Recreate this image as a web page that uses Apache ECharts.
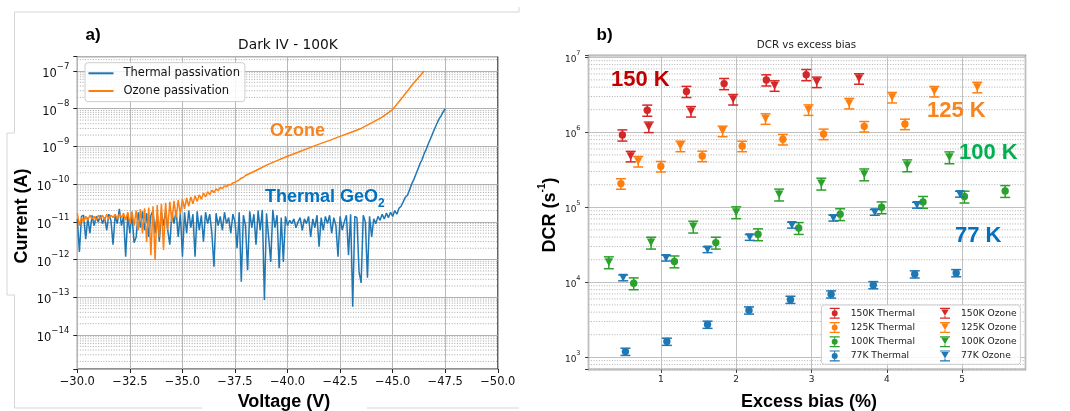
<!DOCTYPE html>
<html><head><meta charset="utf-8">
<script src="https://cdn.jsdelivr.net/npm/echarts@6/dist/echarts.min.js"></script>
<style>html,body{margin:0;padding:0;background:#fff}#c{width:1070px;height:411px}</style>
</head><body><div id="c"></div><script>
// ---------------- Panel a data: Dark IV at 100K ----------------
const thermalIV = [
[-30.0,1.2e-11],[-30.1,1.6e-12],[-30.2,1.4e-11],[-30.3,1.5e-11],[-30.4,3.5e-12],[-30.5,1.3e-11],[-30.6,5e-12],[-30.7,1.5e-11],[-30.8,8e-12],[-30.9,1.4e-11],
[-31.0,1.0e-11],[-31.1,1.5e-11],[-31.2,9e-12],[-31.3,1.3e-11],[-31.4,6e-12],[-31.5,1.6e-11],[-31.6,1.1e-11],[-31.7,2.5e-12],[-31.8,1.5e-11],[-31.9,9e-12],
[-32.0,2.2e-11],[-32.1,8e-12],[-32.2,1.4e-11],[-32.3,1.2e-12],[-32.4,1.5e-11],[-32.5,5e-12],[-32.6,1.6e-11],[-32.7,2.8e-12],[-32.8,4e-12],[-32.9,1.8e-11],
[-33.0,7e-12],[-33.1,1.9e-11],[-33.2,6e-12],[-33.3,1.7e-11],[-33.4,4e-12],[-33.5,1.5e-11],[-33.6,2.0e-11],[-33.7,5e-12],[-33.8,1.6e-11],[-33.9,3e-12],
[-34.0,1.8e-11],[-34.1,8e-12],[-34.2,2.0e-11],[-34.3,6e-12],[-34.4,2.5e-12],[-34.5,1.8e-11],[-34.6,9e-12],[-34.7,2.0e-11],[-34.8,4e-12],[-34.9,1.7e-11],
[-35.0,1.2e-12],[-35.1,1.8e-11],[-35.2,5e-12],[-35.3,2.0e-11],[-35.4,7e-12],[-35.5,1.6e-11],[-35.6,1.2e-12],[-35.7,1.9e-11],[-35.8,6e-12],[-35.9,1.5e-11],
[-36.0,3e-12],[-36.1,1.8e-11],[-36.2,9e-12],[-36.3,1.6e-11],[-36.4,5e-12],[-36.5,6.5e-13],[-36.6,1.7e-11],[-36.7,8e-12],[-36.8,1.4e-11],[-36.9,6e-12],
[-37.0,1.8e-11],[-37.1,9e-12],[-37.2,1.3e-11],[-37.3,5e-12],[-37.4,1.6e-11],[-37.5,1.0e-11],[-37.6,2.0e-12],[-37.7,1.8e-11],[-37.8,2.6e-13],[-37.9,1.5e-11],
[-38.0,8e-12],[-38.1,5.2e-13],[-38.2,1.9e-11],[-38.3,7e-12],[-38.4,1.6e-11],[-38.5,2.5e-12],[-38.6,2.0e-11],[-38.7,6e-12],[-38.8,2.1e-11],[-38.9,8.5e-14],
[-39.0,1.7e-11],[-39.1,4e-12],[-39.2,8.7e-13],[-39.3,2.1e-11],[-39.4,7e-12],[-39.5,1.5e-11],[-39.6,5.9e-13],[-39.7,1.3e-11],[-39.8,8.7e-13],[-39.9,1.4e-11],
[-40.0,8e-12],[-40.1,1.1e-11],[-40.2,9e-12],[-40.3,1.2e-11],[-40.4,7e-12],[-40.5,1.0e-11],[-40.6,1.3e-11],[-40.7,6e-12],[-40.8,1.2e-11],[-40.9,9e-12],
[-41.0,1.4e-11],[-41.1,4e-12],[-41.2,1.2e-11],[-41.3,7e-12],[-41.4,1.5e-11],[-41.5,2.2e-12],[-41.6,1.3e-11],[-41.7,6e-12],[-41.8,1.4e-11],[-41.9,9e-12],
[-42.0,1.5e-11],[-42.1,5e-12],[-42.2,1.3e-11],[-42.3,8e-12],[-42.4,1.2e-12],[-42.5,1.4e-11],[-42.6,6e-12],[-42.7,1.0e-11],[-42.8,1.5e-11],[-42.9,1.3e-12],
[-43.0,1.6e-11],[-43.1,5.6e-14],[-43.2,1.4e-11],[-43.3,1.3e-11],[-43.4,4.8e-13],[-43.5,2.4e-13],[-43.6,1.5e-11],[-43.7,1.0e-11],[-43.8,3.3e-13],[-43.9,1.4e-11],
[-44.0,4e-12],[-44.1,1.2e-11],[-44.2,9e-12],[-44.3,1.4e-11],[-44.4,1.1e-11],[-44.5,1.6e-11],[-44.6,1.2e-11],[-44.7,1.7e-11],[-44.8,1.3e-11],[-44.9,1.8e-11],
[-45.0,1.4e-11],[-45.1,2.0e-11],[-45.2,1.6e-11],[-45.3,2.3e-11],[-45.4,2.6e-11],[-45.5,3.4e-11],[-45.6,4.5e-11],[-45.7,5.0e-11],[-45.8,7e-11],[-45.9,1.0e-10],
[-46.0,1.3e-10],[-46.1,1.8e-10],[-46.2,2.5e-10],[-46.3,3.5e-10],[-46.4,4.5e-10],[-46.5,6.5e-10],[-46.6,8.5e-10],[-46.7,1.2e-9],[-46.8,1.6e-9],[-46.9,2.2e-9],
[-47.0,3.0e-9],[-47.1,4.0e-9],[-47.2,5.3e-9],[-47.3,6.5e-9],[-47.4,8.2e-9],[-47.5,1.0e-8]
];
const ozoneIV = [
[-30.0,1.7e-11],[-30.1,8e-12],[-30.2,1.3e-11],[-30.3,1.0e-11],[-30.4,1.4e-11],[-30.5,1.1e-11],[-30.6,1.5e-11],[-30.7,1.2e-11],[-30.8,1.4e-11],[-30.9,1.1e-11],
[-31.0,1.5e-11],[-31.1,1.2e-11],[-31.2,1.5e-11],[-31.3,1.1e-11],[-31.4,1.6e-11],[-31.5,1.2e-11],[-31.6,1.5e-11],[-31.7,1.3e-11],[-31.8,1.6e-11],[-31.9,1.2e-11],
[-32.0,1.6e-11],[-32.1,1.3e-11],[-32.2,1.7e-11],[-32.3,1.1e-11],[-32.4,1.8e-11],[-32.5,9e-12],[-32.6,1.9e-11],[-32.7,8e-12],[-32.8,2.0e-11],[-32.9,6e-12],
[-33.0,2.2e-11],[-33.1,5e-12],[-33.2,2.3e-11],[-33.3,3e-12],[-33.4,2.4e-11],[-33.5,1.3e-12],[-33.6,2.6e-11],[-33.7,9.8e-13],[-33.8,2.8e-11],[-33.9,4e-12],
[-34.0,3.0e-11],[-34.1,1.8e-12],[-34.2,3.2e-11],[-34.3,6e-12],[-34.4,3.4e-11],[-34.5,1.0e-11],[-34.6,3.6e-11],[-34.7,1.3e-11],[-34.8,3.8e-11],[-34.9,1.6e-11],
[-35.0,4.0e-11],[-35.1,2.2e-11],[-35.2,4.3e-11],[-35.3,2.6e-11],[-35.4,4.6e-11],[-35.5,3.0e-11],[-35.6,4.9e-11],[-35.7,3.5e-11],[-35.8,5.2e-11],[-35.9,4.0e-11],
[-36.0,5.8e-11],[-36.1,4.6e-11],[-36.2,6.3e-11],[-36.3,5.3e-11],[-36.4,6.9e-11],[-36.5,6.0e-11],[-36.6,7.5e-11],[-36.7,6.7e-11],[-36.8,8.2e-11],[-36.9,7.6e-11],
[-37.0,9.0e-11],[-37.1,8.6e-11],[-37.2,9.8e-11],[-37.3,9.6e-11],[-37.4,1.08e-10],[-37.5,1.12e-10],[-37.6,1.2e-10],[-37.7,1.3e-10],[-37.8,1.45e-10],[-37.9,1.5e-10],
[-38.0,1.7e-10],[-38.5,2.3e-10],[-39.0,3.2e-10],[-39.5,4.2e-10],[-40.0,5.5e-10],[-40.5,7.0e-10],[-41.0,9.0e-10],[-41.5,1.15e-9],[-42.0,1.45e-9],
[-42.5,1.85e-9],[-43.0,2.35e-9],[-43.5,3.0e-9],[-44.0,4.2e-9],[-44.5,6.0e-9],[-45.0,9.5e-9],[-45.5,2.1e-8],[-46.0,4.8e-8],[-46.5,1.0e-7]
];

// ---------------- Panel b data: DCR vs excess bias ----------------
const bias150T = [0.49, 0.82, 1.34, 1.84, 2.40, 2.93];
const dcr150T  = [9.2e5, 1.97e6, 3.5e6, 4.46e6, 4.99e6, 5.87e6];
const err150T  = [0.17, 0.17, 0.17, 0.17, 0.17, 0.17];
const bias150O = [0.60, 0.84, 1.40, 1.96, 2.51, 3.07, 3.63];
const dcr150O  = [4.8e5, 1.18e6, 1.9e6, 2.75e6, 4.19e6, 4.69e6, 5.2e6];
const err150O  = [0.16, 0.16, 0.16, 0.16, 0.16, 0.16, 0.16];
const bias125T = [0.47, 1.00, 1.55, 2.08, 2.62, 3.16, 3.70, 4.24];
const dcr125T  = [2.07e5, 3.52e5, 4.83e5, 6.56e5, 8.07e5, 9.5e5, 1.2e6, 1.29e6];
const err125T  = [0.16, 0.16, 0.16, 0.16, 0.16, 0.16, 0.16, 0.16];
const bias125O = [0.70, 1.26, 1.82, 2.39, 2.96, 3.50, 4.07, 4.63, 5.20];
const dcr125O  = [4.1e5, 6.56e5, 1.04e6, 1.52e6, 2.0e6, 2.44e6, 2.93e6, 3.52e6, 4.0e6];
const err125O  = [0.16, 0.16, 0.16, 0.16, 0.16, 0.16, 0.16, 0.16, 0.16];
const bias100T = [0.64, 1.18, 1.73, 2.29, 2.83, 3.38, 3.93, 4.48, 5.03, 5.57];
const dcr100T  = [9.7e3, 1.9e4, 3.38e4, 4.37e4, 5.3e4, 8.1e4, 1.0e5, 1.18e5, 1.39e5, 1.65e5];
const err100T  = [0.18, 0.18, 0.18, 0.18, 0.18, 0.18, 0.18, 0.18, 0.18, 0.18];
const bias100O = [0.31, 0.87, 1.43, 2.00, 2.57, 3.13, 3.70, 4.27, 4.83];
const dcr100O  = [1.85e4, 3.38e4, 5.53e4, 8.6e4, 1.48e5, 2.07e5, 2.75e5, 3.63e5, 4.64e5];
const err100O  = [0.18, 0.18, 0.18, 0.18, 0.18, 0.18, 0.18, 0.18, 0.18];
const bias77T  = [0.53, 1.08, 1.62, 2.17, 2.72, 3.26, 3.82, 4.37, 4.92];
const dcr77T   = [1.19e3, 1.62e3, 2.73e3, 4.23e3, 5.87e3, 6.92e3, 9.2e3, 1.28e4, 1.33e4];
const err77T   = [0.11, 0.11, 0.11, 0.11, 0.11, 0.11, 0.11, 0.11, 0.11];
const bias77O  = [0.50, 1.07, 1.62, 2.18, 2.74, 3.29, 3.84, 4.40, 4.97];
const dcr77O   = [1.15e4, 2.11e4, 2.73e4, 3.98e4, 5.8e4, 7.2e4, 8.6e4, 1.07e5, 1.5e5];
const err77O   = [0.09, 0.09, 0.09, 0.09, 0.09, 0.09, 0.09, 0.09, 0.09];

const seriesNamesB = ['150K Thermal','125K Thermal','100K Thermal','77K Thermal','150K Ozone','125K Ozone','100K Ozone','77K Ozone'];
const legendNamesA = ['Thermal passivation', 'Ozone passivation'];

// ---------------- styling ----------------
const FONT = "'DejaVu Sans', sans-serif";
const C_BLUE = '#1f77b4', C_ORANGE = '#ff7f0e', C_GREEN = '#2ca02c', C_RED = '#d62728';

const aYMin = Math.pow(10, -14.90), aYMax = Math.pow(10, -6.621);
const bYMin = Math.pow(10, 2.837), bYMax = Math.pow(10, 7.024);

// minor grid-line positions (2..9 x 10^n) inside an axis range
function minorVals(lo, hi, xRef) {
  const out = [];
  for (let e = Math.floor(Math.log10(lo)); e <= Math.ceil(Math.log10(hi)); e++)
    for (let m = 2; m <= 9; m++) { const v = m * Math.pow(10, e); if (v > lo && v < hi) out.push([xRef, v]); }
  return out;
}
function minorRender(color) {
  return function (params, api) {
    const cs = params.coordSys;
    const p = api.coord([api.value(0), api.value(1)]);
    return {type: 'line', silent: true, shape: {x1: cs.x, y1: p[1], x2: cs.x + cs.width, y2: p[1]},
      style: {stroke: color, lineWidth: 1, lineDash: [1, 1.6]}};
  };
}
function powLabel(v) {
  const e = Math.log10(v);
  if (Math.abs(e - Math.round(e)) > 1e-6) return '';
  const r = Math.round(e);
  return '{b|10}{s|' + (r < 0 ? '\u2212' + (-r) : r) + '}';
}
function toErr(xs, ys, es) {
  return xs.map((x, i) => [x, ys[i], ys[i] * (1 - es[i]), ys[i] * (1 + es[i])]);
}
function errRender(marker) {
  return function (params, api) {
    const x = api.value(0), y = api.value(1);
    const c = api.coord([x, y]), lo = api.coord([x, api.value(2)]), hi = api.coord([x, api.value(3)]);
    const color = api.visual('color');
    const cw = 5, st = {stroke: color, lineWidth: 1.5};
    const ch = [
      {type: 'line', shape: {x1: c[0], y1: lo[1], x2: c[0], y2: hi[1]}, style: st},
      {type: 'line', shape: {x1: c[0] - cw, y1: lo[1], x2: c[0] + cw, y2: lo[1]}, style: st},
      {type: 'line', shape: {x1: c[0] - cw, y1: hi[1], x2: c[0] + cw, y2: hi[1]}, style: st}
    ];
    if (marker === 'circle') ch.push({type: 'circle', shape: {cx: c[0], cy: c[1], r: 3.7}, style: {fill: color}});
    else ch.push({type: 'polygon', shape: {points: [[c[0] - 4.2, c[1] - 4], [c[0] + 4.2, c[1] - 4], [c[0], c[1] + 4]]}, style: {fill: color}});
    return {type: 'group', children: ch};
  };
}
const ICON_CIRC = 'path://M0,0H20V2.4H0Z M0,19.6H20V22H0Z M9,2.4H11V5H9Z M9,17H11V19.6H9Z M4,11A6,6 0 1,0 16,11A6,6 0 1,0 4,11Z';
const ICON_TRI = 'path://M0,0H20V2.4H0Z M0,19.6H20V22H0Z M2.5,3.2H17.5L10,16Z M9,16H11V19.6H9Z';

const bSets = [
  ['150K Thermal', C_RED, 'circle', toErr(bias150T, dcr150T, err150T)],
  ['125K Thermal', C_ORANGE, 'circle', toErr(bias125T, dcr125T, err125T)],
  ['100K Thermal', C_GREEN, 'circle', toErr(bias100T, dcr100T, err100T)],
  ['77K Thermal', C_BLUE, 'circle', toErr(bias77T, dcr77T, err77T)],
  ['150K Ozone', C_RED, 'tri', toErr(bias150O, dcr150O, err150O)],
  ['125K Ozone', C_ORANGE, 'tri', toErr(bias125O, dcr125O, err125O)],
  ['100K Ozone', C_GREEN, 'tri', toErr(bias100O, dcr100O, err100O)],
  ['77K Ozone', C_BLUE, 'tri', toErr(bias77O, dcr77O, err77O)]
];

const chart = echarts.init(document.getElementById('c'), null, {renderer: 'canvas'});

const gl = (pts) => ({type: 'polyline', shape: {points: pts}, style: {stroke: '#d6d6d6', lineWidth: 1, fill: null}, silent: true});

const option = {
  animation: false,
  backgroundColor: '#fff',
  grid: [
    {left: 77.3, top: 56.7, width: 420.5, height: 312.3, show: true, borderColor: '#222', borderWidth: 1, backgroundColor: 'transparent'},
    {left: 588.5, top: 55.5, width: 437, height: 314, show: true, borderColor: '#555', borderWidth: 1.3, backgroundColor: 'transparent'}
  ],
  xAxis: [
    {gridIndex: 0, type: 'value', inverse: true, min: -50, max: -30, interval: 2.5,
     axisLine: {show: false}, axisTick: {show: true, length: 4, lineStyle: {color: '#222'}},
     axisLabel: {fontFamily: FONT, fontSize: 11.5, color: '#111', margin: 7,
       formatter: v => (v < 0 ? '\u2212' : '') + Math.abs(v).toFixed(1)},
     splitLine: {show: true, lineStyle: {color: '#b8b8b8', width: 1}}},
    {gridIndex: 1, type: 'value', min: 0.04, max: 5.84, splitNumber: 5,
     axisLine: {show: false}, axisTick: {show: true, length: 3.5, lineStyle: {color: '#444'}},
     axisLabel: {fontFamily: FONT, fontSize: 9, color: '#222', margin: 6, showMinLabel: false, showMaxLabel: false,
       formatter: v => Math.abs(v - Math.round(v)) < 1e-6 ? String(Math.round(v)) : ''},
     splitLine: {show: true, lineStyle: {color: '#c0c0c0', width: 1}}}
  ],
  yAxis: [
    {gridIndex: 0, type: 'log', logBase: 10, min: aYMin, max: aYMax,
     axisLine: {show: false}, axisTick: {show: true, length: 4, lineStyle: {color: '#222'}},
     axisLabel: {margin: 8, formatter: powLabel,
       rich: {b: {fontFamily: FONT, fontSize: 11.5, color: '#111', lineHeight: 18, verticalAlign: 'bottom'},
              s: {fontFamily: FONT, fontSize: 8.5, color: '#111', lineHeight: 9, verticalAlign: 'top'}}},
     splitLine: {show: true, lineStyle: {color: '#b0b0b0', width: 1.2}}},
    {gridIndex: 1, type: 'log', logBase: 10, min: bYMin, max: bYMax,
     axisLine: {show: false}, axisTick: {show: true, length: 3.5, lineStyle: {color: '#444'}},
     axisLabel: {margin: 8, formatter: powLabel,
       rich: {b: {fontFamily: FONT, fontSize: 9, color: '#222', lineHeight: 14, verticalAlign: 'bottom'},
              s: {fontFamily: FONT, fontSize: 6.5, color: '#222', lineHeight: 7, verticalAlign: 'top'}}},
     splitLine: {show: true, lineStyle: {color: '#c0c0c0', width: 1}}}
  ],
  legend: [
    {data: legendNamesA.map(n => ({name: n, icon: 'rect'})), orient: 'vertical', left: 85, top: 62.7,
     itemWidth: 25, itemHeight: 2, itemGap: 3.7, padding: [3.6, 5, 3.6, 3.5], selectedMode: false,
     backgroundColor: 'rgba(255,255,255,0.85)', borderColor: '#cccccc', borderWidth: 1, borderRadius: 3,
     textStyle: {fontFamily: FONT, fontSize: 11.5, color: '#111', lineHeight: 14, padding: [0, 0, 0, 5]}},
    {data: seriesNamesB.slice(0, 4).map(n => ({name: n, icon: ICON_CIRC})), orient: 'vertical', left: 829.7, top: 306.3,
     itemWidth: 10, itemHeight: 11, itemGap: 0.2, padding: 0, selectedMode: false,
     textStyle: {fontFamily: FONT, fontSize: 9.2, color: '#222', lineHeight: 14, padding: [0, 0, 0, 6]}},
    {data: seriesNamesB.slice(4).map(n => ({name: n, icon: ICON_TRI})), orient: 'vertical', left: 940, top: 306.3,
     itemWidth: 10, itemHeight: 11, itemGap: 0.2, padding: 0, selectedMode: false,
     textStyle: {fontFamily: FONT, fontSize: 9.2, color: '#222', lineHeight: 14, padding: [0, 0, 0, 6]}}
  ],
  series: [
    {type: 'custom', name: '_minorA', xAxisIndex: 0, yAxisIndex: 0, silent: true, z: 1, clip: false,
     data: minorVals(aYMin, aYMax, -40), renderItem: minorRender('#a8a8a8'), encode: {x: 0, y: 1}},
    {type: 'custom', name: '_minorB', xAxisIndex: 1, yAxisIndex: 1, silent: true, z: 1, clip: false,
     data: minorVals(bYMin, bYMax, 3), renderItem: minorRender('#b0b0b0'), encode: {x: 0, y: 1}},
    {type: 'line', name: 'Thermal passivation', xAxisIndex: 0, yAxisIndex: 0, data: thermalIV,
     symbol: 'none', showSymbol: false, lineStyle: {color: C_BLUE, width: 1.5}, itemStyle: {color: C_BLUE}, z: 3},
    {type: 'line', name: 'Ozone passivation', xAxisIndex: 0, yAxisIndex: 0, data: ozoneIV,
     symbol: 'none', showSymbol: false, lineStyle: {color: C_ORANGE, width: 1.5}, itemStyle: {color: C_ORANGE}, z: 4}
  ].concat(bSets.map(s => ({
    type: 'custom', name: s[0], xAxisIndex: 1, yAxisIndex: 1, data: s[3],
    itemStyle: {color: s[1]}, renderItem: errRender(s[2]), encode: {x: 0, y: 1}, z: 3
  }))),
  graphic: {elements: [
    gl([[519, 7], [519, 12], [14.5, 12], [14.5, 133], [7, 133], [7, 295], [14.5, 295], [14.5, 408], [202, 408]]),
    gl([[367, 408], [519, 408]]),
    {type: 'rect', z: 3, shape: {x: 821.4, y: 305, width: 199, height: 59.3, r: 3},
     style: {fill: 'rgba(255,255,255,0.85)', stroke: '#cccccc', lineWidth: 1}},
    {type: 'text', x: 85.5, y: 35, style: {text: 'a)', font: "bold 17px 'Liberation Sans', Arial", fill: '#000', align: 'left', verticalAlign: 'middle'}},
    {type: 'text', x: 596.5, y: 35, style: {text: 'b)', font: "bold 17px 'Liberation Sans', Arial", fill: '#000', align: 'left', verticalAlign: 'middle'}},
    {type: 'text', x: 288, y: 45, style: {text: 'Dark IV - 100K', font: "13.8px 'DejaVu Sans'", fill: '#111', align: 'center', verticalAlign: 'middle'}},
    {type: 'text', x: 806.5, y: 45, style: {text: 'DCR vs excess bias', font: "10.3px 'DejaVu Sans'", fill: '#222', align: 'center', verticalAlign: 'middle'}},
    {type: 'text', x: 284, y: 402, style: {text: 'Voltage (V)', font: "bold 18px 'Liberation Sans', Arial", fill: '#000', align: 'center', verticalAlign: 'middle'}},
    {type: 'text', x: 809, y: 402, style: {text: 'Excess bias (%)', font: "bold 18px 'Liberation Sans', Arial", fill: '#000', align: 'center', verticalAlign: 'middle'}},
    {type: 'text', x: 22, y: 216, rotation: Math.PI / 2, style: {text: 'Current (A)', font: "bold 18px 'Liberation Sans', Arial", fill: '#000', align: 'center', verticalAlign: 'middle'}},
    {type: 'text', x: 548, y: 215, rotation: Math.PI / 2, style: {text: '{m|DCR (s}{s|-1}{m|)}', align: 'center', verticalAlign: 'middle',
      rich: {m: {font: "bold 18px 'Liberation Sans', Arial", fill: '#000', lineHeight: 22, verticalAlign: 'bottom'},
             s: {font: "bold 10px 'Liberation Sans', Arial", fill: '#000', lineHeight: 12, verticalAlign: 'top'}}}},
    {type: 'text', x: 270, y: 131, z: 5, style: {text: 'Ozone', font: "bold 18px 'Liberation Sans', Arial", fill: '#f7841f', align: 'left', verticalAlign: 'middle'}},
    {type: 'text', x: 265, y: 199, z: 5, style: {text: '{m|Thermal GeO}{s|2}', align: 'left', verticalAlign: 'middle',
      rich: {m: {font: "bold 18px 'Liberation Sans', Arial", fill: '#0070c0', lineHeight: 22, verticalAlign: 'top'},
             s: {font: "bold 12px 'Liberation Sans', Arial", fill: '#0070c0', lineHeight: 12, verticalAlign: 'bottom'}}}},
    {type: 'text', x: 611, y: 80, z: 5, style: {text: '150 K', font: "bold 22px 'Liberation Sans', Arial", fill: '#c00000', align: 'left', verticalAlign: 'middle'}},
    {type: 'text', x: 927, y: 111, z: 5, style: {text: '125 K', font: "bold 22px 'Liberation Sans', Arial", fill: '#f7841f', align: 'left', verticalAlign: 'middle'}},
    {type: 'text', x: 959, y: 153, z: 5, style: {text: '100 K', font: "bold 22px 'Liberation Sans', Arial", fill: '#00b050', align: 'left', verticalAlign: 'middle'}},
    {type: 'text', x: 955, y: 236, z: 5, style: {text: '77 K', font: "bold 22px 'Liberation Sans', Arial", fill: '#0070c0', align: 'left', verticalAlign: 'middle'}}
  ]}
};
chart.setOption(option);
</script></body></html>
